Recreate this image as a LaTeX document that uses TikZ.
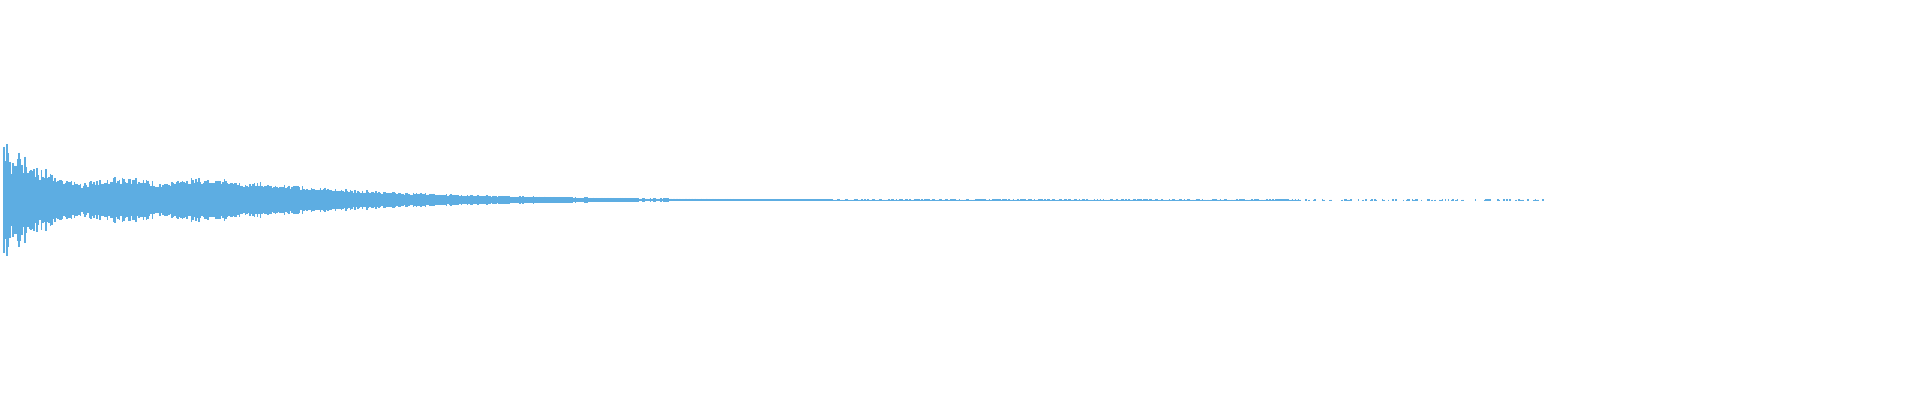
\documentclass[tikz,border=0pt]{standalone}
\definecolor{wave}{HTML}{5DADE2}
\begin{document}
\begin{tikzpicture}[x=0.01cm,y=-0.01cm]
\useasboundingbox (0,0) rectangle (1920,400);
\pgfmathsetseed{7}
% waveform bars
\foreach \x in {4,5.5,...,1545}{
  \pgfmathsetmacro{\amp}{\x<260 ? 16+7*abs(sin(\x*2.2))+60*exp(-(\x-4)/22)*(0.3+0.7*rnd) : max(0.6,18*exp(-(\x-260)/170))}
  \pgfmathsetmacro{\jit}{(0.7+0.3*rnd)*\amp}
  \pgfmathsetmacro{\show}{\x<1300 ? 1 : (rnd<0.35 ? 1 : 0)}
  \ifdim\show pt>0.5pt
  \draw[wave,line width=0.012cm] (\x,200-\jit) -- (\x,200+\jit);
  \fi
}
\end{tikzpicture}
\end{document}
